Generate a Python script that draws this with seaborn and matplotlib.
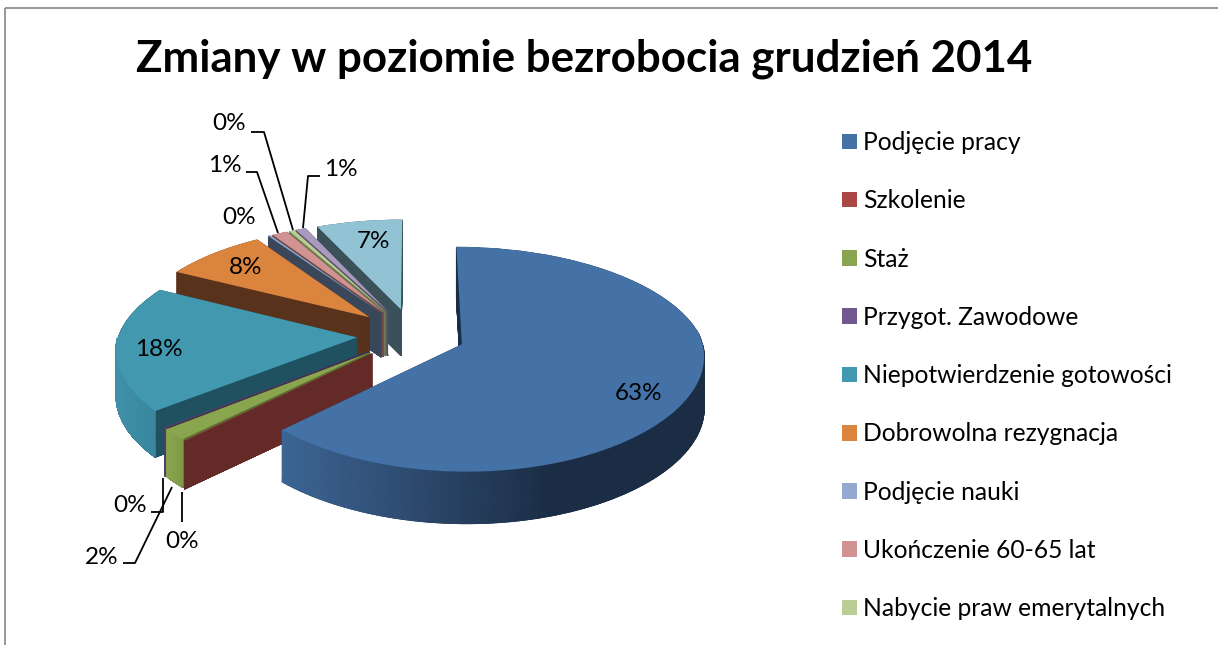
import numpy as np
import matplotlib
matplotlib.use("Agg")
import matplotlib.pyplot as plt
from matplotlib.patches import Patch, Rectangle
from matplotlib.transforms import Transform, Affine2D
from matplotlib.colors import LinearSegmentedColormap
import seaborn as sns

categories = ["Podjęcie pracy", "Szkolenie", "Staż", "Przygot. Zawodowe",
              "Niepotwierdzenie gotowości", "Dobrowolna rezygnacja", "Podjęcie nauki",
              "Ukończenie 60-65 lat", "Nabycie praw emerytalnych", "", ""]
values = [62.6, 0.05, 1.6, 0.05, 18.4, 8.0, 0.2, 1.2, 0.4, 0.8, 6.7]

top_colors = ["#4471A6", "#AA4643", "#89A54E", "#71588F", "#4198AF", "#DB843D",
              "#93A9CF", "#D19392", "#B9CD96", "#A99BBD", "#91C3D5"]
face_colors = ["#1B2D45", "#632A28", "#5B6E32", "#3F3150", "#205160", "#58321A",
               "#3A465A", "#6E4A49", "#6B7A4F", "#5A5068", "#3B5159"]
rim_stops = [["#3C6594", "#2E4B70", "#1B2D45", "#1B2D45"], ["#6B2C2A", "#632A28"],
             ["#8AA64F", "#7F9A47"], ["#5A4672", "#4F3E66"], ["#3F90A8", "#38879F"],
             ["#B06A30", "#A06028"], ["#7A8DB0", "#6A7DA0"], ["#B07C7B", "#A06C6B"],
             ["#9AAC7C", "#8A9C6C"], ["#8A7E9C", "#7A6E8C"], ["#7AA4B4", "#6A94A4"]]

EXPLODE = [0.22, 0.235, 0.235, 0.235, 0.235, 0.25, 0.25, 0.25, 0.25, 0.25, 0.25]
DEPTH = [52, 48, 48, 48, 46, 44, 44, 44, 44, 44, 46]

# label centres and leader lines, figure pixels
label_xy = [(639, 393), (182, 541), (102, 558), (130, 506), (159, 349), (246, 268),
            (239, 218), (225, 165), (229, 124), (341, 169), (374, 241)]
leaders = [[(182, 492), (182, 522)],
           [(123, 563), (135, 563), (172, 487)],
           [(151, 512), (163, 512), (163, 478)],
           [(246, 172), (257, 172), (278, 233)],
           [(251, 132), (264, 132), (293, 230)],
           [(320, 176), (308, 176), (303, 228)]]

CX, CY, RX, AY, BX_FAR, BX_NEAR, BY = 413.0, 335.0, 239.0, 108.0, 0.13, 0.09, 0.1316


class Perspective(Transform):
    input_dims = output_dims = 2

    def transform_non_affine(self, pts):
        pts = np.asarray(pts, float)
        X, Y = pts[:, 0], pts[:, 1]
        bx = np.where(Y > 0, BX_FAR, BX_NEAR)
        return np.column_stack([CX + RX * X / (1 + bx * Y), CY - AY * Y / (1 + BY * Y)])


sns.set_theme(style="white")
plt.rcParams["font.family"] = ["Lato", "DejaVu Sans"]
palette = sns.color_palette(top_colors)

fig = plt.figure(figsize=(12.18, 6.45), dpi=100)
ax = fig.add_axes([0, 0, 1, 1])
persp = Perspective()
order = list(range(len(values)))[::-1]
rank = {i: n for n, i in enumerate(order)}

# side walls: the same pie stacked downward
for h in np.arange(0.5, max(DEPTH) + 0.5, 0.5):
    wedges, _ = ax.pie(values, explode=EXPLODE, startangle=90, counterclock=False,
                       colors=face_colors, wedgeprops=dict(linewidth=0))
    for i, w in enumerate(wedges):
        w.set_transform(persp + Affine2D().translate(0, min(h, DEPTH[i])) + ax.transData)
        w.set_edgecolor(face_colors[i])
        w.set_linewidth(0.6)
        w.set_zorder(10 + rank[i] * 5)

# top faces
wedges, _ = ax.pie(values, explode=EXPLODE, startangle=90, counterclock=False,
                   colors=palette, wedgeprops=dict(linewidth=0))
for i, w in enumerate(wedges):
    w.set_transform(persp + ax.transData)
    w.set_zorder(12 + rank[i] * 5)
    # outer rim
    t = np.radians(np.linspace(w.theta1, w.theta2, 240))
    t = t[np.sin(t) < 0]
    if len(t) < 2:
        continue
    xy = persp.transform_non_affine(np.column_stack([w.center[0] + np.cos(t),
                                                     w.center[1] + np.sin(t)]))
    sx, sy = xy[:, 0], xy[:, 1]
    cmap = LinearSegmentedColormap.from_list(
        f"rim{i}", list(zip(np.array([0, .3, .64, 1]) if len(rim_stops[i]) == 4 else [0, 1], rim_stops[i])))
    c = (sx - sx.min()) / max(sx.max() - sx.min(), 1e-6)
    ax.pcolormesh(np.vstack([sx, sx]), np.vstack([sy, sy + DEPTH[i]]), np.vstack([c, c]),
                  cmap=cmap, shading="gouraud", vmin=0, vmax=1, zorder=11 + rank[i] * 5)

ax.set_aspect("auto")
ax.set_xlim(0, 1218)
ax.set_ylim(645, 0)
ax.set_axis_off()

for (x, y), v in zip(label_xy, values):
    ax.text(x, y, f"{v:.0f}%", ha="center", va="center", fontsize=17.5, color="black", zorder=100)
for pts in leaders:
    xs, ys = zip(*pts)
    ax.plot(xs, ys, color="black", lw=1.3, zorder=99, solid_capstyle="butt")

ax.text(584, 59, "Zmiany w poziomie bezrobocia grudzień 2014", ha="center", va="center",
        fontsize=31.6, fontweight="bold", color="black", zorder=100)

handles = [Patch(facecolor=palette[i], edgecolor="none", label=categories[i]) for i in range(9)]
ax.legend(handles=handles, loc="upper left", bbox_to_anchor=(842, 131),
          bbox_transform=ax.transData, frameon=False, fontsize=17.7, borderpad=0, borderaxespad=0,
          handlelength=0.6, handleheight=0.6, handletextpad=0.25, labelspacing=1.435, labelcolor="black")

ax.add_patch(Rectangle((5, 8), 1300, 700, fill=False, edgecolor="#868686", lw=1.2, zorder=1))

fig.savefig("out.png", dpi=100)
